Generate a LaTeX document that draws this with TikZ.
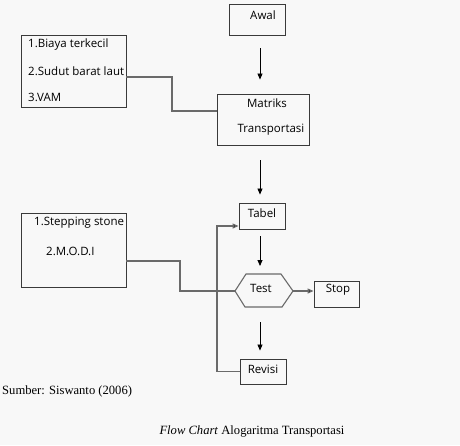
\documentclass[tikz,border=0pt]{standalone}
\usepackage{fontspec}
\setmainfont{Liberation Serif}
\newfontfamily\boxfont{Open Sans}
\usetikzlibrary{arrows.meta}
\definecolor{bgc}{HTML}{F8F8F8}
\definecolor{boxc}{HTML}{3A3A3A}
\definecolor{linec}{HTML}{6A6A6A}
\tikzset{
  boxshape/.style={draw=boxc,line width=0.9pt},
  boxtext/.style={font=\boxfont\fontsize{11.5}{13}\selectfont,inner sep=0pt,text=black},
  arr/.style={draw=black,line width=0.8pt,-{Triangle[length=6pt,width=5pt]}},
  conn/.style={draw=linec,line width=1.2pt},
  connarr/.style={draw=linec,line width=1.2pt,-{Triangle[length=6pt,width=5pt,fill=black]}},
  serif/.style={font=\fontsize{12.6}{14}\selectfont,inner sep=0pt}
}
\begin{document}
\begin{tikzpicture}[x=1pt,y=-1pt]
\fill[bgc] (0,0) rectangle (460,445);
\useasboundingbox (0,0) rectangle (460,445);

% boxes
\node[boxshape,minimum width=56pt,minimum height=31pt,inner sep=0pt] (awal) at (257,19.5) {};
\node[boxshape,minimum width=92pt,minimum height=51pt,inner sep=0pt] (matriks) at (263,119.5) {};
\node[boxshape,minimum width=105pt,minimum height=72pt,inner sep=0pt] (metode1) at (73.5,71) {};
\node[boxshape,minimum width=46pt,minimum height=26pt,inner sep=0pt] (tabel) at (262,216) {};
\node[boxshape,minimum width=45pt,minimum height=26pt,inner sep=0pt] (stop) at (336.5,294) {};
\node[boxshape,minimum width=105pt,minimum height=74pt,inner sep=0pt] (metode2) at (73.5,250) {};
\node[boxshape,minimum width=46pt,minimum height=25pt,inner sep=0pt] (revisi) at (263,371.5) {};

% hexagon
\coordinate (testW) at (235,291);
\coordinate (testE) at (293,291);
\draw[draw=linec,line width=1.1pt] (testW) -- (246,274) -- (281,274) -- (testE) -- (282,307) -- (245,307) -- cycle;

% texts
\node[boxtext] (tawal) at (263,15) {Awal};
\node[boxtext] (tmat1) at (267,103) {Matriks};
\node[boxtext] (tmat2) at (271,130) {Transportasi};
\node[boxtext,anchor=west] (tm11) at (28,45) {1.Biaya terkecil};
\node[boxtext,anchor=west] (tm12) at (28,71) {2.Sudut barat laut};
\node[boxtext,anchor=west] (tm13) at (28,97) {3.VAM};
\node[boxtext] (ttabel) at (262,213) {Tabel};
\node[boxtext] (ttest) at (261,288) {Test};
\node[boxtext] (tstop) at (338,290) {Stop};
\node[boxtext,anchor=west] (tm21) at (34,223) {1.Stepping stone};
\node[boxtext,anchor=west] (tm22) at (46,251) {2.M.O.D.I};
\node[boxtext] (trevisi) at (263,369) {Revisi};

% arrows
\draw[arr] ([shift={(3,13)}]awal.south) -- ([shift={(-3,-14)}]matriks.north);
\draw[arr] ([shift={(-3,15)}]matriks.south) -- ([shift={(-2,-8)}]tabel.north);
\draw[arr] ([shift={(-2,7)}]tabel.south) -- ([shift={(-2,-8)}]tabel.south |- 0,274);
\draw[arr] ([shift={(-3,15)}]revisi.north |- 0,307) -- ([shift={(-3,-8)}]revisi.north);
\draw[connarr] (testE) -- (stop.west |- testE);

% connectors
\draw[conn] (metode1.east |- 0,77) -- (172,77) |- (matriks.west |- 0,111);
\draw[conn] (metode2.east |- 0,261) -- (180,261) |- (testW);
\draw[connarr] (revisi.west) -| (217,226) -- (tabel.west |- 0,226);

% caption
\node[serif,anchor=west] (sumber) at (2,391) {Sumber: Siswanto (2006)};
\node[serif] (caption) at (252,431) {\textit{Flow Chart} Alogaritma Transportasi};
\end{tikzpicture}
\end{document}
